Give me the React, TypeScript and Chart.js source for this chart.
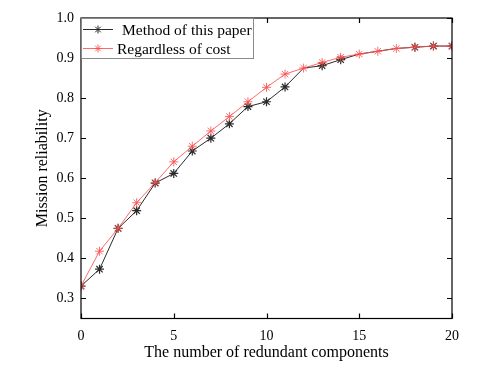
import React, { useEffect, useRef } from "react";
import { Chart, registerables } from "chart.js";

Chart.register(...registerables);

const components = [0, 1, 2, 3, 4, 5, 6, 7, 8, 9, 10, 11, 12, 13, 14, 15, 16, 17, 18, 19, 20];
const methodOfThisPaper = [0.331, 0.373, 0.475, 0.519, 0.588, 0.612, 0.668, 0.700, 0.736, 0.779, 0.791, 0.828, 0.875, 0.881, 0.896, 0.910, 0.917, 0.924, 0.927, 0.930, 0.930];
const regardlessOfCost = [0.331, 0.418, 0.475, 0.539, 0.589, 0.641, 0.680, 0.718, 0.754, 0.791, 0.827, 0.860, 0.875, 0.889, 0.902, 0.910, 0.917, 0.924, 0.927, 0.930, 0.930];
const xTicks = [0, 5, 10, 15, 20];
const yTicks = [0.3, 0.4, 0.5, 0.6, 0.7, 0.8, 0.9, 1.0];
const seriesNames = ["Method of this paper", "Regardless of cost"];

const FONT = "'Liberation Serif', 'DejaVu Serif', serif";
const BLACK = "#2b2b2b";
const RED = "rgba(255,80,80,0.85)";
const hiddenBlackMarkers = [12, 15, 16, 17];

export default function App() {
  const ref = useRef<HTMLCanvasElement>(null);
  useEffect(() => {
    document.body.style.margin = "0";
    const canvas = ref.current!;
    const framePlugin = {
      id: "frame",
      afterDraw(chart: any) {
        const { ctx, chartArea: a, scales } = chart;
        ctx.save();
        ctx.strokeStyle = "#000";
        ctx.lineWidth = 1.2;
        ctx.strokeRect(a.left, a.top, a.right - a.left, a.bottom - a.top);
        ctx.beginPath();
        for (const v of xTicks) {
          const px = Math.round(scales.x.getPixelForValue(v)) + 0.5;
          ctx.moveTo(px, a.bottom);
          ctx.lineTo(px, a.bottom - 5);
          ctx.moveTo(px, a.top);
          ctx.lineTo(px, a.top + 5);
        }
        for (const v of yTicks) {
          const py = Math.round(scales.y.getPixelForValue(v)) + 0.5;
          ctx.moveTo(a.left, py);
          ctx.lineTo(a.left + 5, py);
          ctx.moveTo(a.right, py);
          ctx.lineTo(a.right - 5, py);
        }
        ctx.stroke();

        // legend
        const bx = a.left + 0.5, by = a.top + 0.5, bw = 172, bh = 40;
        ctx.fillStyle = "#fff";
        ctx.fillRect(bx, by, bw, bh);
        ctx.strokeStyle = "#8a8a8a";
        ctx.lineWidth = 1;
        ctx.strokeRect(bx, by, bw, bh);
        const rows = [
          { name: seriesNames[0], color: BLACK, y: by + 11, tx: 122 },
          { name: seriesNames[1], color: RED, y: by + 30, tx: 117 },
        ];
        ctx.font = `15.5px ${FONT}`;
        ctx.textBaseline = "middle";
        ctx.textAlign = "left";
        for (const r of rows) {
          ctx.strokeStyle = r.color;
          ctx.lineWidth = 1;
          ctx.beginPath();
          ctx.moveTo(83, r.y);
          ctx.lineTo(113, r.y);
          ctx.stroke();
          ctx.beginPath();
          const cx = 98, rad = 4;
          ctx.moveTo(cx - rad, r.y); ctx.lineTo(cx + rad, r.y);
          ctx.moveTo(cx, r.y - rad); ctx.lineTo(cx, r.y + rad);
          const d = rad * 0.707;
          ctx.moveTo(cx - d, r.y - d); ctx.lineTo(cx + d, r.y + d);
          ctx.moveTo(cx - d, r.y + d); ctx.lineTo(cx + d, r.y - d);
          ctx.stroke();
          ctx.fillStyle = "#000";
          ctx.fillText(r.name, r.tx, r.y + 1);
        }
        ctx.restore();
      },
    };

    const chart = new Chart(canvas, {
      type: "line",
      data: {
        labels: components,
        datasets: [
          {
            label: seriesNames[1],
            data: components.map((x, i) => ({ x, y: regardlessOfCost[i] })),
            borderColor: RED,
            backgroundColor: RED,
            borderWidth: 1,
            pointStyle: "star",
            pointRadius: 4.5,
            pointBorderWidth: 1,
            pointBorderColor: RED,
          },
          {
            label: seriesNames[0],
            data: components.map((x, i) => ({ x, y: methodOfThisPaper[i] })),
            borderColor: BLACK,
            backgroundColor: BLACK,
            borderWidth: 1,
            pointStyle: "star",
            pointRadius: (c: any) => (hiddenBlackMarkers.includes(c.dataIndex) ? 0 : 4.5),
            pointBorderWidth: 1.2,
            pointBorderColor: BLACK,
          },
        ],
      },
      options: {
        animation: false,
        responsive: false,
        maintainAspectRatio: false,
        layout: { padding: { left: 0, right: 35, top: 18, bottom: 0 } },
        plugins: { legend: { display: false }, tooltip: { enabled: false } },
        scales: {
          x: {
            type: "linear",
            min: 0,
            max: 20,
            afterBuildTicks: (s: any) => { s.ticks = xTicks.map((v) => ({ value: v })); },
            afterFit: (s: any) => { s.height = 56.5; },
            grid: { display: false, drawTicks: false },
            border: { display: false },
            ticks: { color: "#000", padding: 9, font: { family: FONT, size: 14 } },
            title: {
              display: true,
              text: "The number of redundant components",
              color: "#000",
              font: { family: FONT, size: 16 },
              padding: { top: 0, bottom: 13 },
            },
          },
          y: {
            type: "linear",
            min: 0.25,
            max: 1.0,
            afterBuildTicks: (s: any) => { s.ticks = yTicks.map((v) => ({ value: v })); },
            afterFit: (s: any) => { s.width = 81; },
            grid: { display: false, drawTicks: false },
            border: { display: false },
            ticks: {
              color: "#000",
              padding: 7,
              font: { family: FONT, size: 14 },
              callback: (v: any) => Number(v).toFixed(1),
            },
            title: {
              display: true,
              text: "Mission reliability",
              color: "#000",
              font: { family: FONT, size: 16 },
              padding: { top: 33, bottom: 0 },
            },
          },
        },
      },
      plugins: [framePlugin],
    } as any);
    return () => chart.destroy();
  }, []);
  return <canvas ref={ref} width={487} height={375} style={{ display: "block" }} />;
}
